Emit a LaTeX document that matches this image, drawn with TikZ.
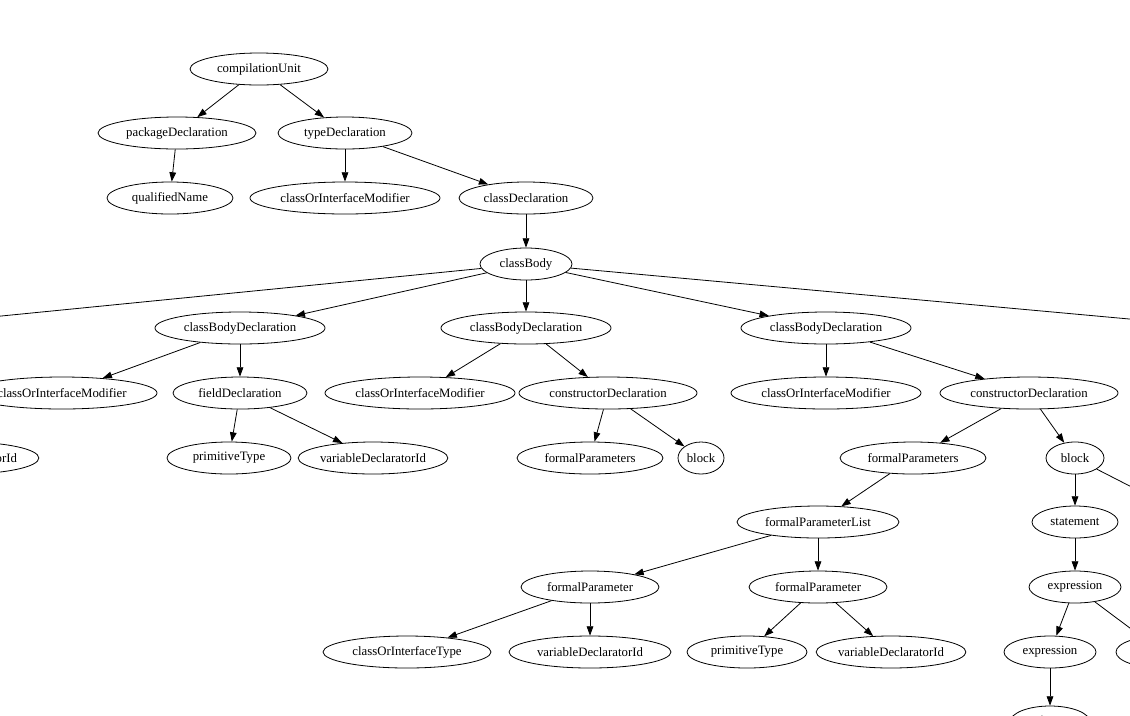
\documentclass[tikz,border=0pt]{standalone}
\usepackage{fontspec}
\setmainfont{Liberation Serif}
\usetikzlibrary{shapes.geometric,arrows.meta}
\tikzset{
  rule/.style={draw,ellipse,inner sep=0pt,line width=0.6pt,minimum height=24pt,font=\fontsize{9.6}{11}\selectfont},
  edge/.style={-{Triangle[length=7pt,width=5pt]},line width=0.6pt,black}
}
\begin{document}
\begin{tikzpicture}[x=0.75pt,y=-0.75pt]
\useasboundingbox (0,0) rectangle (1130,715);
\clip (0,0) rectangle (1130,715);
% level 0-3
\node[rule,minimum width=138*0.75pt] (cu) at (259,69) {compilationUnit};
\node[rule,minimum width=158*0.75pt] (pd) at (177,133) {packageDeclaration};
\node[rule,minimum width=134*0.75pt] (td) at (345,133) {typeDeclaration};
\node[rule,minimum width=126*0.75pt] (qn) at (170,198) {qualifiedName};
\node[rule,minimum width=190*0.75pt] (cim0) at (345,198) {classOrInterfaceModifier};
\node[rule,minimum width=134*0.75pt] (cd) at (526,198) {classDeclaration};
\node[rule,minimum width=92*0.75pt] (cb) at (526,264) {classBody};
% class body declarations
\node[rule,minimum width=170*0.75pt] (cbdL) at (-140,330) {classBodyDeclaration};
\node[rule,minimum width=170*0.75pt] (cbdA) at (240,328) {classBodyDeclaration};
\node[rule,minimum width=170*0.75pt] (cbdB) at (526,328) {classBodyDeclaration};
\node[rule,minimum width=170*0.75pt] (cbdC) at (826,328) {classBodyDeclaration};
\node[rule,minimum width=170*0.75pt] (cbdR) at (1250,330) {classBodyDeclaration};
% level 5
\node[rule,minimum width=190*0.75pt] (cimL) at (62,393) {classOrInterfaceModifier};
\node[rule,minimum width=134*0.75pt] (fdL) at (-160,393) {fieldDeclaration};
\node[rule,minimum width=134*0.75pt] (fdA) at (240,393) {fieldDeclaration};
\node[rule,minimum width=190*0.75pt] (cimB) at (420,393) {classOrInterfaceModifier};
\node[rule,minimum width=178*0.75pt] (ctB) at (608,393) {constructorDeclaration};
\node[rule,minimum width=190*0.75pt] (cimC) at (826,393) {classOrInterfaceModifier};
\node[rule,minimum width=178*0.75pt] (ctC) at (1029,393) {constructorDeclaration};
% level 6
\node[rule,minimum width=136*0.75pt] (vdL) at (-36,458) {variableDeclaratorId};
\node[rule,minimum width=124*0.75pt] (ptA) at (229,458) {primitiveType};
\node[rule,minimum width=136*0.75pt] (vdA) at (373,458) {variableDeclaratorId};
\node[rule,minimum width=146*0.75pt] (fpB) at (590,458) {formalParameters};
\node[rule,minimum width=46*0.75pt] (blB) at (701,458) {block};
\node[rule,minimum width=146*0.75pt] (fpC) at (913,458) {formalParameters};
\node[rule,minimum width=58*0.75pt] (blC) at (1075,458) {block};
\node[rule,minimum width=86*0.75pt] (stR) at (1200,522) {statement};
% level 7-9
\node[rule,minimum width=162*0.75pt] (fpl) at (818,522) {formalParameterList};
\node[rule,minimum width=86*0.75pt] (st) at (1075,522) {statement};
\node[rule,minimum width=138*0.75pt] (fp1) at (590,587) {formalParameter};
\node[rule,minimum width=138*0.75pt] (fp2) at (818,587) {formalParameter};
\node[rule,minimum width=92*0.75pt] (ex) at (1075,587) {expression};
\node[rule,minimum width=168*0.75pt] (cit) at (407,652) {classOrInterfaceType};
\node[rule,minimum width=162*0.75pt] (vd1) at (590,652) {variableDeclaratorId};
\node[rule,minimum width=120*0.75pt] (pt2) at (747,652) {primitiveType};
\node[rule,minimum width=134*0.75pt] (vd2) at (891,652) {variableDeclaratorId};
\node[rule,minimum width=92*0.75pt] (ex1) at (1050,652) {expression};
\node[rule,minimum width=92*0.75pt] (ex2) at (1162,652) {expression};
\node[rule,minimum width=80*0.75pt] (pr) at (1050,722) {primary};
% edges
\foreach \a/\b in {cu/pd,cu/td,pd/qn,td/cim0,td/cd,cd/cb,
  cb/cbdL,cb/cbdA,cb/cbdB,cb/cbdC,cb/cbdR,
  cbdL/fdL,fdL/vdL,cbdA/cimL,cbdA/fdA,fdA/ptA,fdA/vdA,
  cbdB/cimB,cbdB/ctB,ctB/fpB,ctB/blB,cbdC/cimC,cbdC/ctC,ctC/fpC,ctC/blC,
  fpC/fpl,blC/st,blC/stR,fpl/fp1,fpl/fp2,st/ex,fp1/cit,fp1/vd1,fp2/pt2,fp2/vd2,
  ex/ex1,ex/ex2,ex1/pr}
  {\draw[edge] (\a) -- (\b);}
\end{tikzpicture}
\end{document}
